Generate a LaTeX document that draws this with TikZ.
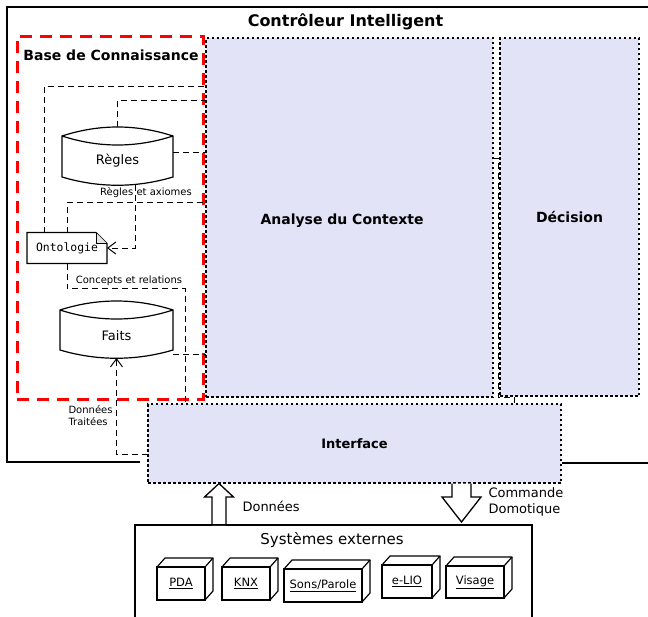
\documentclass[tikz,border=0pt]{standalone}
\usepackage{fontspec}
\setmainfont{DejaVu Sans}
\setmonofont{DejaVu Sans Mono}
\usetikzlibrary{arrows.meta,calc}
\definecolor{lav}{RGB}{227,227,248}
\newcommand{\dbdraw}[1]{%
  \draw[shp] ($(#1.north west)+(0,9)$) .. controls ($(#1.north west)+(37,-3)$) and ($(#1.north east)+(-37,-3)$) .. ($(#1.north east)+(0,9)$)
     -- ($(#1.south east)+(0,-8)$) .. controls ($(#1.south east)+(-37,3)$) and ($(#1.south west)+(37,3)$) .. ($(#1.south west)+(0,-8)$) -- cycle;
  \draw[shp] ($(#1.north west)+(0,9)$) .. controls ($(#1.north west)+(37,21)$) and ($(#1.north east)+(-37,21)$) .. ($(#1.north east)+(0,9)$);
}
\newcommand{\devdraw}[1]{%
  \draw[shp,line join=round] (#1.north west) -- ++(8,-9) -- ($(#1.north east)+(8,-9)$) -- (#1.north east);
  \draw[shp,line join=round] ($(#1.north east)+(8,-9)$) -- ($(#1.south east)+(8,-9)$) -- (#1.south east);
}
\tikzset{
  frame/.style={line width=1.5pt},
  ttl/.style={font=\fontsize{16}{19}\selectfont\bfseries},
  boldlbl/.style={font=\fontsize{14}{17}\selectfont\bfseries},
  comp/.style={draw, fill=lav, line width=1.3pt, dash pattern=on 2.5pt off 2.5pt, inner sep=0pt, outer sep=0pt},
  kbbox/.style={draw=red, line width=3pt, dash pattern=on 12pt off 8pt, inner sep=0pt},
  conn/.style={line width=1pt, dash pattern=on 6pt off 4pt},
  shp/.style={line width=1.2pt},
  lbl/.style={font=\fontsize{13}{16}\selectfont},
  small/.style={font=\fontsize{10}{12}\selectfont},
  dbnode/.style={inner sep=0pt, outer sep=0pt, font=\fontsize{13}{16}\selectfont},
  dev/.style={draw, line width=1.2pt, inner sep=0pt, outer sep=0pt, font=\fontsize{11.5}{14}\selectfont},
  hollow/.style={draw, fill=white, line width=1.3pt, line join=miter},
  barb/.style={-{Straight Barb[length=8pt,width=12pt,line width=1pt]}}
}
\begin{document}
\begin{tikzpicture}[x=1pt,y=-1pt]
\useasboundingbox (0,0) rectangle (648,616);

% outer controller frame
\node[ttl] (title) at (345.5,22) {Contrôleur Intelligent};

% components
\node[comp, minimum width=287, minimum height=359] (analyse) at (349.5,217.5) {};
\node[boldlbl] (analyselbl) at (342,221) {Analyse du Contexte};
\node[comp, minimum width=139, minimum height=358, boldlbl] (decision) at (569.5,217) {Décision};
\node[comp, minimum width=413, minimum height=79, font=\fontsize{13}{16}\selectfont\bfseries] (interface) at (354.5,443.5) {Interface};

\draw[frame] (7,7) -- (648,7);
\draw[frame] (7,6.25) -- (7,462) -- (140,462);
\draw[frame] (562,463) -- (648,463);

% knowledge base
\node[kbbox, minimum width=186, minimum height=363] (kb) at (110,217.5) {};
\node[boldlbl] (kbtitle) at (111,55) {Base de Connaissance};

\node[dbnode, minimum width=111, minimum height=58, label={[dbnode,yshift=-5pt]center:Règles}] (regles) at (117.5,156) {};
\dbdraw{regles}
\node[dbnode, minimum width=113, minimum height=57, label={[dbnode,yshift=-6pt]center:Faits}] (faits) at (116.5,329.5) {};
\dbdraw{faits}

\node[inner sep=0pt, outer sep=0pt, minimum width=80, minimum height=31, font=\fontsize{11.4}{13}\selectfont\ttfamily] (ontologie) at (67,248) {Ontologie};
\draw[shp] (ontologie.north west) -- ($(ontologie.north east)+(-11,0)$) -- ($(ontologie.north east)+(0,11)$) -- (ontologie.south east) -- (ontologie.south west) -- cycle;
\draw[line width=0.8pt, fill=black!10] ($(ontologie.north east)+(-11,0)$) -- ($(ontologie.north east)+(-11,11)$) -- ($(ontologie.north east)+(0,11)$);

% connectors
\draw[conn] (ontologie.north -| 44,0) |- (analyse.west |- 0,86);
\draw[conn] (regles.north) |- (analyse.west |- 0,100);
\draw[conn] (regles.east |- 0,152) -- (analyse.west |- 0,152);
\draw[conn,barb] (regles.south -| 135,0) |- (ontologie.east);
\draw[conn] (ontologie.north) |- (analyse.west |- 0,202);
\draw[conn] (ontologie.south) -- ++(0,25) -| (interface.north -| 185,0);
\draw[conn] (faits.east |- 0,354) -- (analyse.west |- 0,354);
\draw[conn,barb] (interface.west |- 0,454) -| (faits.south);
\draw[conn] (analyse.east |- 0,158) -| (498,397) -| (interface.north -| 514,0);

\node[small] (lblra) at (146,193) {Règles et axiomes};
\node[small] (lblcr) at (129,281) {Concepts et relations};
\node[small, align=left, anchor=west] (lbldt) at (65,416) {Données\\Traitées};

% external systems
\node[draw, line width=1.2pt, minimum width=397, minimum height=100, inner sep=0pt] (sys) at (333.5,575) {};
\node[font=\fontsize{15}{18}\selectfont] (systitle) at (332,540) {Systèmes externes};

\node[dev, minimum width=48, minimum height=33] (pda) at (181,583.5) {\underline{PDA}};
\devdraw{pda}
\node[dev, minimum width=48, minimum height=33] (knx) at (246,583.5) {\underline{KNX}};
\devdraw{knx}
\node[dev, minimum width=78, minimum height=33] (sons) at (323,585.5) {\underline{Sons/Parole}};
\devdraw{sons}
\node[dev, minimum width=50, minimum height=33] (elio) at (407,581.5) {\underline{e-LIO}};
\devdraw{elio}
\node[dev, minimum width=58, minimum height=32] (visage) at (475,582) {\underline{Visage}};
\devdraw{visage}

% hollow arrows
\draw[hollow] (212,525) -- (212,497) -- (204.5,497) -- (219,483.5) -- (233.5,497) -- (226,497) -- (226,525);
\draw[hollow] (452,483.5) -- (452,497) -- (442,497) -- (461.5,522) -- (481,497) -- (471,497) -- (471,483.5);
\draw[line width=1.2pt] (sys.north west) -- (sys.north east);
\node[lbl, anchor=west] (lbldon) at (239,506) {Données};
\node[lbl, anchor=west, align=left] (lblcmd) at (485,502) {Commande\\Domotique};
\end{tikzpicture}
\end{document}
